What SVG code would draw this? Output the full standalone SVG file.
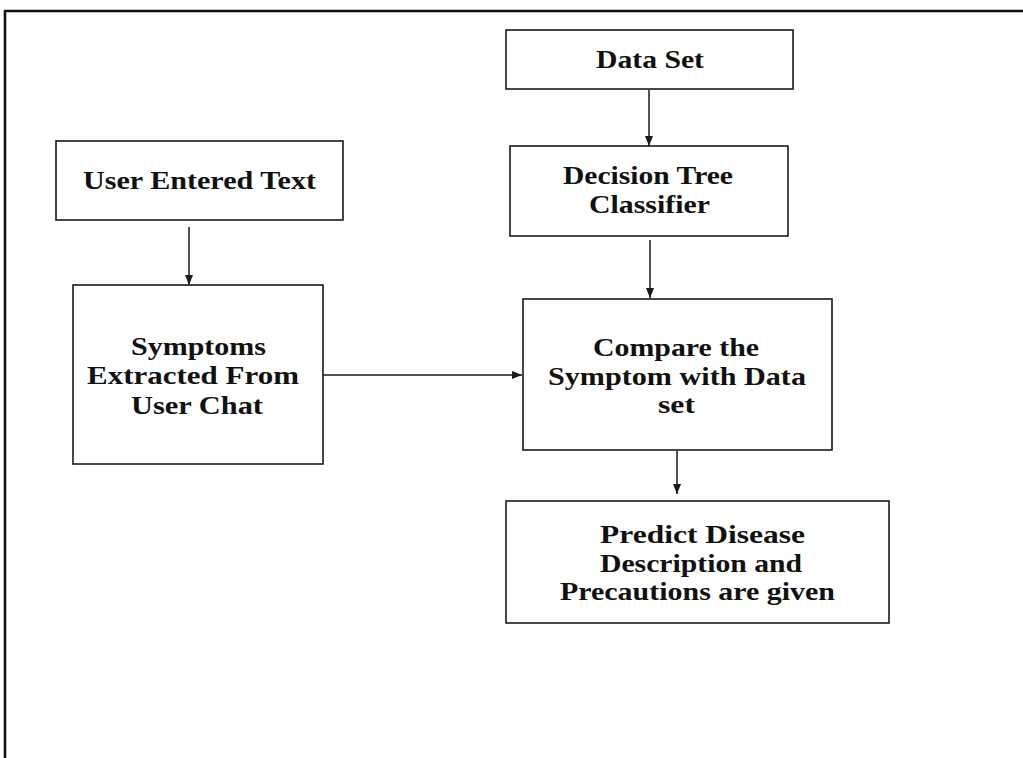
<svg xmlns="http://www.w3.org/2000/svg" width="1023" height="758" viewBox="0 0 1023 758">
<style>
.box{fill:#fff;stroke:#1a1a1a;stroke-width:1.6}
.t{font-family:"Liberation Serif","Times New Roman",serif;font-weight:bold;font-size:25px;fill:#111}
.c{stroke:#1a1a1a;stroke-width:1.5;fill:none;marker-end:url(#ah)}
</style>
<defs>
<marker id="ah" markerUnits="userSpaceOnUse" markerWidth="10" markerHeight="8" refX="10" refY="4" orient="auto">
<path d="M0,0 L10,4 L0,8 z" fill="#1a1a1a"/>
</marker>
</defs>
<rect width="1023" height="758" fill="#fff"/>
<path d="M5,758 L5,11 L1023,11" fill="none" stroke="#111" stroke-width="2.6"/>
<g id="connectors">
<line class="c" x1="649" y1="90" x2="649" y2="146"/>
<line class="c" x1="650" y1="240" x2="650" y2="298"/>
<line class="c" x1="189" y1="227" x2="189" y2="285"/>
<line class="c" x1="323" y1="375" x2="522" y2="375"/>
<line class="c" x1="677" y1="451" x2="677" y2="494"/>
</g>
<g id="data-set">
<rect class="box" x="506" y="30" width="287" height="59"/>
<text class="t" x="596" y="68" textLength="108" lengthAdjust="spacingAndGlyphs">Data Set</text>
</g>
<g id="decision-tree">
<rect class="box" x="510" y="146" width="278" height="90"/>
<text class="t" x="563" y="184" textLength="170" lengthAdjust="spacingAndGlyphs">Decision Tree</text>
<text class="t" x="589" y="213" textLength="121" lengthAdjust="spacingAndGlyphs">Classifier</text>
</g>
<g id="user-entered-text">
<rect class="box" x="56" y="141" width="287" height="79"/>
<text class="t" x="83" y="189" textLength="233" lengthAdjust="spacingAndGlyphs">User Entered Text</text>
</g>
<g id="symptoms-extracted">
<rect class="box" x="73" y="285" width="250" height="179"/>
<text class="t" x="131" y="355" textLength="135" lengthAdjust="spacingAndGlyphs">Symptoms</text>
<text class="t" x="87" y="384" textLength="212" lengthAdjust="spacingAndGlyphs">Extracted From</text>
<text class="t" x="131" y="414" textLength="132" lengthAdjust="spacingAndGlyphs">User Chat</text>
</g>
<g id="compare">
<rect class="box" x="523" y="299" width="309" height="151"/>
<text class="t" x="593" y="356" textLength="166" lengthAdjust="spacingAndGlyphs">Compare the</text>
<text class="t" x="548" y="385" textLength="258" lengthAdjust="spacingAndGlyphs">Symptom with Data</text>
<text class="t" x="658" y="413" textLength="37" lengthAdjust="spacingAndGlyphs">set</text>
</g>
<g id="predict">
<rect class="box" x="506" y="501" width="383" height="122"/>
<text class="t" x="600" y="543" textLength="205" lengthAdjust="spacingAndGlyphs">Predict Disease</text>
<text class="t" x="600" y="572" textLength="202" lengthAdjust="spacingAndGlyphs">Description and</text>
<text class="t" x="560" y="600" textLength="275" lengthAdjust="spacingAndGlyphs">Precautions are given</text>
</g>
</svg>
